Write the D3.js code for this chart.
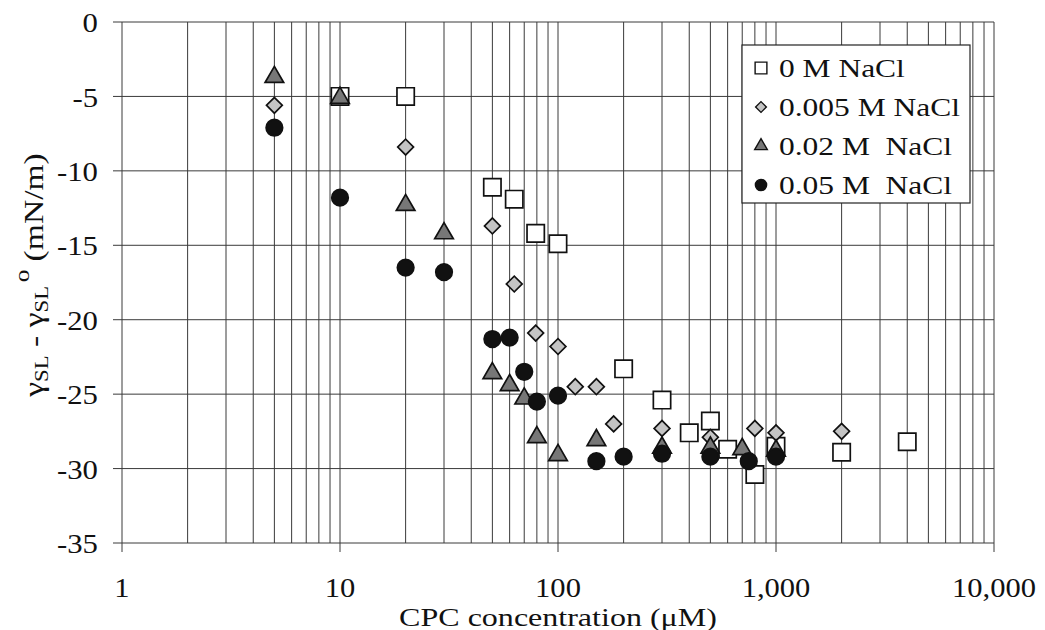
<!DOCTYPE html>
<html><head><meta charset="utf-8">
<script src="https://cdn.jsdelivr.net/npm/d3@7"></script>
<style>body{margin:0;background:#fff}svg{display:block}</style>
</head><body>
<svg id="c" width="1045" height="630"></svg>
<script>
const xTicks=[1,10,100,1000,10000];
const yTicks=[0,-5,-10,-15,-20,-25,-30,-35];
const seriesNames=["0 M NaCl","0.005 M NaCl","0.02 M  NaCl","0.05 M  NaCl"];
const conc0=[10,20,50,63,79,100,200,300,400,500,600,800,1000,2000,4000];
const val0=[-5,-5,-11.1,-11.9,-14.2,-14.9,-23.3,-25.4,-27.6,-26.8,-28.7,-30.4,-28.5,-28.9,-28.2];
const conc005=[5,20,50,63,79,100,120,150,180,300,500,800,1000,2000];
const val005=[-5.6,-8.4,-13.7,-17.6,-20.9,-21.8,-24.5,-24.5,-27.0,-27.3,-27.9,-27.3,-27.6,-27.5];
const conc02=[5,10,20,30,50,60,70,80,100,150,300,500,700,1000];
const val02=[-3.7,-5.1,-12.3,-14.2,-23.6,-24.4,-25.3,-27.9,-29.1,-28.1,-28.6,-28.6,-28.7,-28.8];
const conc05=[5,10,20,30,50,60,70,80,100,150,200,300,500,750,1000];
const val05=[-7.1,-11.8,-16.5,-16.8,-21.3,-21.2,-23.5,-25.5,-25.1,-29.5,-29.2,-29.0,-29.2,-29.5,-29.2];

const svg=d3.select("#c");
const FONT="Liberation Serif";
const x=d3.scaleLog().domain([1,10000]).range([122,994]);
const y=d3.scaleLinear().domain([-35,0]).range([543,22]);

function fitGroup(sel,refNode,target){
 const w=refNode.getComputedTextLength();
 const k=target/w;
 sel.each(function(){
  const p=d3.select(this.parentNode);
  p.attr("transform",p.attr("transform")+` scale(${k},1)`);
 });
}

// grid
const minor=[];
for(let d=1;d<10000;d*=10){for(let k=1;k<10;k++)minor.push(d*k);}
minor.push(10000);
const g=svg.append("g");
g.selectAll("line.v").data(minor).join("line")
 .attr("x1",d=>x(d)).attr("x2",d=>x(d)).attr("y1",y(0)).attr("y2",y(-35))
 .attr("stroke","#3a3a3a").attr("stroke-width",1);
g.selectAll("line.h").data(yTicks).join("line")
 .attr("x1",113).attr("x2",x(10000)).attr("y1",d=>y(d)).attr("y2",d=>y(d))
 .attr("stroke","#3a3a3a").attr("stroke-width",1);
g.selectAll("line.t").data(xTicks).join("line")
 .attr("x1",d=>x(d)).attr("x2",d=>x(d)).attr("y1",y(-35)).attr("y2",y(-35)+9)
 .attr("stroke","#3a3a3a").attr("stroke-width",1);

// tick labels
const yl=svg.append("g").selectAll("g").data(yTicks).join("g")
 .attr("transform",d=>`translate(98,${y(d)})`)
 .append("text").attr("text-anchor","end").attr("dy","0.36em")
 .attr("font-family",FONT).attr("font-size",28).attr("fill","#111").text(d=>d);
fitGroup(yl,yl.nodes()[7],41);
const fmt=d3.format(",");
const xl=svg.append("g").selectAll("g").data(xTicks).join("g")
 .attr("transform",d=>`translate(${x(d)},597)`)
 .append("text").attr("text-anchor","middle")
 .attr("font-family",FONT).attr("font-size",27).attr("fill","#111").text(d=>fmt(d));
fitGroup(xl,xl.nodes()[4],84);

// axis titles
const xt=svg.append("g").attr("transform","translate(558,626)")
 .append("text").attr("text-anchor","middle").attr("font-family",FONT).attr("font-size",25).attr("fill","#111")
 .text("CPC concentration (\u03bcM)");
fitGroup(xt,xt.node(),318);
const yt=svg.append("g").attr("transform","translate(43,275) rotate(-90)")
 .append("text").attr("text-anchor","middle").attr("font-family",FONT).attr("font-size",28).attr("fill","#111");
yt.append("tspan").text("\u03b3");
yt.append("tspan").attr("font-size",19).attr("dy",5).text("SL");
yt.append("tspan").attr("dy",-5).text(" - \u03b3");
yt.append("tspan").attr("font-size",19).attr("dy",5).text("SL");
yt.append("tspan").attr("font-size",21).attr("dy",-19).attr("dx",3).text("o");
yt.append("tspan").attr("dy",14).text(" (mN/m)");
fitGroup(yt,yt.node(),240);

// series
const series=[
 {c:conc0,v:val0,type:"sq"},
 {c:conc005,v:val005,type:"di"},
 {c:conc02,v:val02,type:"tr"},
 {c:conc05,v:val05,type:"ci"}];
function sym(type,scale){
 if(type==="sq")return {p:d3.symbol(d3.symbolSquare,300*scale*scale)(),fill:"#fff",rot:0};
 if(type==="di")return {p:d3.symbol(d3.symbolSquare,125*scale*scale)(),fill:"#c4c4c4",rot:45};
 if(type==="tr")return {p:d3.symbol(d3.symbolTriangle,150*scale*scale)(),fill:"#777",rot:0};
 return {p:d3.symbol(d3.symbolCircle,215*scale*scale)(),fill:"#111",rot:0};
}
series.forEach(s=>{
 const m=sym(s.type,1);
 const pts=s.c.map((c,i)=>({c,v:s.v[i]}));
 svg.append("g").selectAll("path").data(pts).join("path")
  .attr("d",m.p).attr("fill",m.fill).attr("stroke","#111").attr("stroke-width",1.7)
  .attr("transform",d=>`translate(${x(d.c)},${y(d.v)}) rotate(${m.rot})`);
});

// legend
const lg=svg.append("g");
lg.append("rect").attr("x",742).attr("y",45).attr("width",228).attr("height",158)
 .attr("fill","#fff").attr("stroke","#222").attr("stroke-width",1.2);
const ly=[68,107,146,185];
const lts=[];
series.forEach((s,i)=>{
 const m=sym(s.type,0.68);
 lg.append("path").attr("d",m.p).attr("fill",m.fill).attr("stroke","#111").attr("stroke-width",1.4)
  .attr("transform",`translate(761,${ly[i]}) rotate(${m.rot})`);
 const t=lg.append("g").attr("transform",`translate(779,${ly[i]})`)
  .append("text").attr("dy","0.35em").attr("font-family",FONT).attr("font-size",25).attr("fill","#111")
  .attr("xml:space","preserve").style("white-space","pre").text(seriesNames[i]);
 lts.push(t.node());
});
fitGroup(d3.selectAll(lts),lts[1],181);
</script>
</body></html>
